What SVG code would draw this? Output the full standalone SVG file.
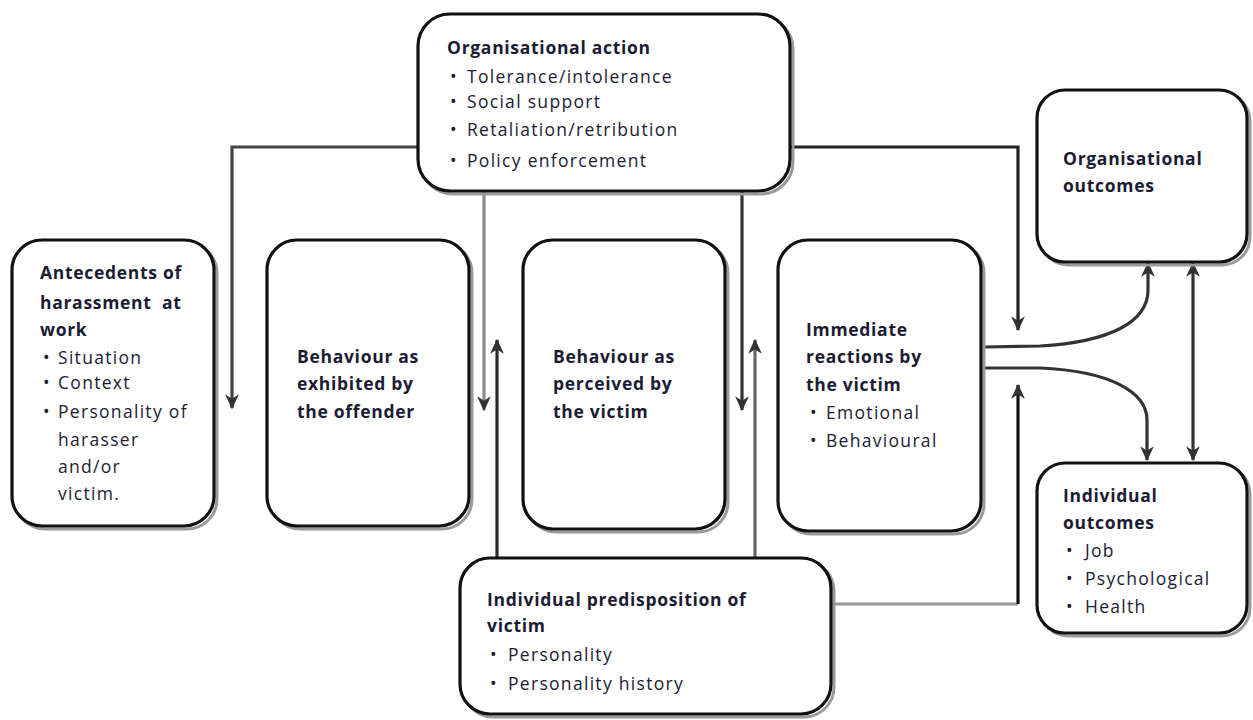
<svg xmlns="http://www.w3.org/2000/svg" width="1253" height="720" viewBox="0 0 1253 720">
  <defs>
    <marker id="arrow" viewBox="0 0 12 12" refX="11" refY="6" markerWidth="15" markerHeight="15" markerUnits="userSpaceOnUse" orient="auto-start-reverse">
      <path d="M0,0.5 L12,6 L0,11.5 L3.5,6 z" fill="#333"/>
    </marker>
  </defs>
  <style>
    .box { fill: #fff; stroke: #111; stroke-width: 3.2; }
    .shadow { fill: none; stroke: #9a9a9a; stroke-width: 3; }
    .h { font-family: "Open Sans", "Liberation Sans", sans-serif; font-size: 17.5px; font-weight: bold; fill: #1b1b33; letter-spacing: 0.7px; white-space: pre; }
    .t { font-family: "Open Sans", "Liberation Sans", sans-serif; font-size: 17.5px; font-weight: 500; fill: #1b1b33; letter-spacing: 1.3px; }
    .c { fill: none; stroke-width: 3.2; }
  </style>

  <!-- connectors -->
  <g id="connectors">
    <path class="c" d="M418,147 L232,147 L232,408" stroke="#444" marker-end="url(#arrow)"/>
    <path class="c" d="M484,192 L484,410" stroke="#8a8a8a" marker-end="url(#arrow)"/>
    <path class="c" d="M497,558 L497,340" stroke="#2a2a2a" marker-end="url(#arrow)"/>
    <path class="c" d="M742,192 L742,410" stroke="#333" marker-end="url(#arrow)"/>
    <path class="c" d="M755,558 L755,340" stroke="#666" marker-end="url(#arrow)"/>
    <path class="c" d="M790,147 L1018,147 L1018,330" stroke="#222" marker-end="url(#arrow)"/>
    <path class="c" d="M832,604 L1018,604" stroke="#9a9a9a"/>
    <path class="c" d="M1018,604 L1018,385" stroke="#111" marker-end="url(#arrow)"/>
    <path class="c" d="M985,347 L1040,346 C1110,342 1148,322 1148,290 L1148,263" stroke="#333" marker-end="url(#arrow)"/>
    <path class="c" d="M985,368 L1040,368 C1110,371 1147,392 1147,420 L1147,460" stroke="#333" marker-end="url(#arrow)"/>
    <path class="c" d="M1193,263 L1193,460" stroke="#333" marker-start="url(#arrow)" marker-end="url(#arrow)"/>
  </g>

  <!-- Organisational action -->
  <g id="organisational-action">
    <rect class="shadow" x="421" y="17" width="372" height="177" rx="32"/>
    <rect class="box" x="418" y="14" width="372" height="177" rx="32"/>
    <text class="h" x="447" y="54">Organisational action</text>
    <text class="t" x="450" y="83">•</text><text class="t" x="467" y="83">Tolerance/intolerance</text>
    <text class="t" x="450" y="108">•</text><text class="t" x="467" y="108">Social support</text>
    <text class="t" x="450" y="136">•</text><text class="t" x="467" y="136">Retaliation/retribution</text>
    <text class="t" x="450" y="167">•</text><text class="t" x="467" y="167">Policy enforcement</text>
  </g>

  <!-- Antecedents -->
  <g id="antecedents">
    <rect class="shadow" x="15" y="243" width="202" height="286" rx="30"/>
    <rect class="box" x="12" y="240" width="202" height="286" rx="30"/>
    <text class="h" x="40" y="279">Antecedents of</text>
    <text class="h" x="40" y="309">harassment  at</text>
    <text class="h" x="40" y="336">work</text>
    <text class="t" x="43" y="364">•</text><text class="t" x="58" y="364">Situation</text>
    <text class="t" x="43" y="389">•</text><text class="t" x="58" y="389">Context</text>
    <text class="t" x="43" y="418">•</text><text class="t" x="58" y="418">Personality of</text>
    <text class="t" x="58" y="446">harasser</text>
    <text class="t" x="58" y="473">and/or</text>
    <text class="t" x="58" y="500">victim.</text>
  </g>

  <!-- Behaviour as exhibited by the offender -->
  <g id="behaviour-exhibited">
    <rect class="shadow" x="270" y="243" width="202" height="286" rx="30"/>
    <rect class="box" x="267" y="240" width="202" height="286" rx="30"/>
    <text class="h" x="297" y="363">Behaviour as</text>
    <text class="h" x="297" y="390">exhibited by</text>
    <text class="h" x="297" y="418">the offender</text>
  </g>

  <!-- Behaviour as perceived by the victim -->
  <g id="behaviour-perceived">
    <rect class="shadow" x="526" y="243" width="202" height="289" rx="30"/>
    <rect class="box" x="523" y="240" width="202" height="289" rx="30"/>
    <text class="h" x="553" y="363">Behaviour as</text>
    <text class="h" x="553" y="390">perceived by</text>
    <text class="h" x="553" y="418">the victim</text>
  </g>

  <!-- Immediate reactions -->
  <g id="immediate-reactions">
    <rect class="shadow" x="781" y="243" width="203" height="291" rx="30"/>
    <rect class="box" x="778" y="240" width="203" height="291" rx="30"/>
    <text class="h" x="806" y="336">Immediate</text>
    <text class="h" x="806" y="363">reactions by</text>
    <text class="h" x="806" y="391">the victim</text>
    <text class="t" x="810" y="419">•</text><text class="t" x="826" y="419">Emotional</text>
    <text class="t" x="810" y="447">•</text><text class="t" x="826" y="447">Behavioural</text>
  </g>

  <!-- Organisational outcomes -->
  <g id="organisational-outcomes">
    <rect class="shadow" x="1040" y="93" width="210" height="172" rx="28"/>
    <rect class="box" x="1037" y="90" width="210" height="172" rx="28"/>
    <text class="h" x="1063" y="165">Organisational</text>
    <text class="h" x="1063" y="192">outcomes</text>
  </g>

  <!-- Individual outcomes -->
  <g id="individual-outcomes">
    <rect class="shadow" x="1040" y="466" width="210" height="170" rx="28"/>
    <rect class="box" x="1037" y="463" width="210" height="170" rx="28"/>
    <text class="h" x="1063" y="502">Individual</text>
    <text class="h" x="1063" y="529">outcomes</text>
    <text class="t" x="1066" y="557">•</text><text class="t" x="1085" y="557">Job</text>
    <text class="t" x="1066" y="585">•</text><text class="t" x="1085" y="585">Psychological</text>
    <text class="t" x="1066" y="613">•</text><text class="t" x="1085" y="613">Health</text>
  </g>

  <!-- Individual predisposition -->
  <g id="individual-predisposition">
    <rect class="shadow" x="463" y="561" width="371" height="156" rx="30"/>
    <rect class="box" x="460" y="558" width="371" height="156" rx="30"/>
    <text class="h" x="487" y="606">Individual predisposition of</text>
    <text class="h" x="487" y="632">victim</text>
    <text class="t" x="490" y="661">•</text><text class="t" x="508" y="661">Personality</text>
    <text class="t" x="490" y="690">•</text><text class="t" x="508" y="690">Personality history</text>
  </g>
</svg>
